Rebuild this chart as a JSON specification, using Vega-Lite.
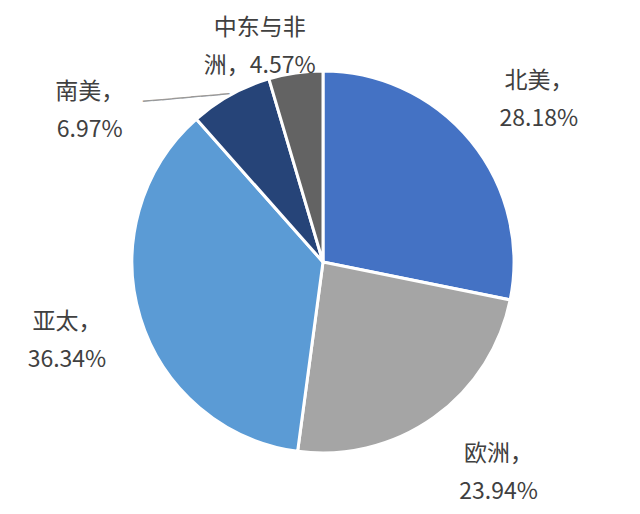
{
  "$schema": "https://vega.github.io/schema/vega-lite/v6.json",
  "description": "Regional share pie chart",
  "width": 634,
  "height": 504,
  "autosize": {"type": "none"},
  "padding": {"left": 6, "top": 10, "right": 0, "bottom": 0},
  "background": "white",
  "data": {
    "values": [
      {"region": "北美", "share": 28.18, "label": "北美，\n28.18%", "rank": 1},
      {"region": "欧洲", "share": 23.94, "label": "欧洲，\n23.94%", "rank": 2},
      {"region": "亚太", "share": 36.34, "label": "亚太，\n36.34%", "rank": 3},
      {"region": "南美", "share": 6.97, "label": "南美，\n6.97%", "rank": 4},
      {"region": "中东与非洲", "share": 4.57, "label": "中东与非\n洲，4.57%", "rank": 5}
    ]
  },
  "encoding": {
    "theta": {"field": "share", "type": "quantitative", "stack": true},
    "order": {"field": "rank", "type": "quantitative"}
  },
  "layer": [
    {
      "mark": {"type": "arc", "outerRadius": 191, "stroke": "white", "strokeWidth": 3},
      "encoding": {
        "color": {
          "field": "region",
          "type": "nominal",
          "scale": {
            "domain": ["北美", "欧洲", "亚太", "南美", "中东与非洲"],
            "range": ["#4472C4", "#A5A5A5", "#5B9BD5", "#264478", "#636363"]
          },
          "legend": null
        }
      }
    },
    {
      "mark": {"type": "text", "radius": 275, "dx": 3, "dy": -7, "lineBreak": "\n", "lineHeight": 38, "font": "Noto Sans CJK SC", "fontSize": 23, "color": "#404040", "align": "center", "baseline": "middle"},
      "encoding": {"text": {"condition": {"test": "datum.region === '北美'", "field": "label"}, "value": ""}}
    },
    {
      "mark": {"type": "text", "radius": 275, "dx": 16, "dy": -32, "lineBreak": "\n", "lineHeight": 38, "font": "Noto Sans CJK SC", "fontSize": 23, "color": "#404040", "align": "center", "baseline": "middle"},
      "encoding": {"text": {"condition": {"test": "datum.region === '欧洲'", "field": "label"}, "value": ""}}
    },
    {
      "mark": {"type": "text", "radius": 275, "dx": 7, "dy": -20, "lineBreak": "\n", "lineHeight": 38, "font": "Noto Sans CJK SC", "fontSize": 23, "color": "#404040", "align": "center", "baseline": "middle"},
      "encoding": {"text": {"condition": {"test": "datum.region === '亚太'", "field": "label"}, "value": ""}}
    },
    {
      "mark": {"type": "text", "radius": 275, "dx": -100, "dy": 71, "lineBreak": "\n", "lineHeight": 38, "font": "Noto Sans CJK SC", "fontSize": 23, "color": "#404040", "align": "center", "baseline": "middle"},
      "encoding": {"text": {"condition": {"test": "datum.region === '南美'", "field": "label"}, "value": ""}}
    },
    {
      "mark": {"type": "text", "radius": 275, "dx": -24, "dy": 38, "lineBreak": "\n", "lineHeight": 38, "font": "Noto Sans CJK SC", "fontSize": 23, "color": "#404040", "align": "center", "baseline": "middle"},
      "encoding": {"text": {"condition": {"test": "datum.region === '中东与非洲'", "field": "label"}, "value": ""}}
    },
    {
      "mark": {"type": "text", "radius": 275, "dx": -10, "dy": 76, "angle": -5, "font": "DejaVu Sans", "fontSize": 16, "color": "#999999", "align": "center", "baseline": "middle", "text": "─────────"},
      "encoding": {"opacity": {"condition": {"test": "datum.region === '南美'", "value": 1}, "value": 0}}
    }
  ]
}
